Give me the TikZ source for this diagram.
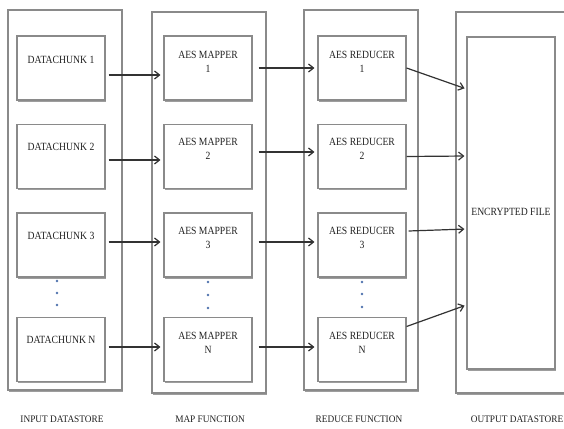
\documentclass[tikz,border=0pt]{standalone}
\usepackage{fontspec}
\setmainfont{Liberation Serif}
\usepackage{graphicx}
\usetikzlibrary{arrows.meta,shadows}
\newcommand{\sqz}[1]{\scalebox{0.88}[1]{#1}}
\newcommand{\sqtwo}[2]{\scalebox{0.88}[1]{\begin{tabular}{@{}c@{}}#1\\[1pt]#2\end{tabular}}}
\definecolor{boxgray}{HTML}{8A8A8A}
\definecolor{arrowgray}{HTML}{333333}
\definecolor{textgray}{HTML}{222222}
\definecolor{dotblue}{HTML}{4F72AE}
\tikzset{
  col/.style={draw=boxgray, line width=1.1pt, fill=white, minimum width=114pt, inner sep=0pt,
    drop shadow={shadow xshift=0.5pt, shadow yshift=-1.6pt, fill=gray!90, opacity=0.85}},
  unit/.style={draw=boxgray, line width=1.1pt, fill=white, minimum width=88pt, minimum height=64pt, inner sep=0pt,
    drop shadow={shadow xshift=0.5pt, shadow yshift=-1.6pt, fill=gray!90, opacity=0.85}},
  txt/.style={text=textgray, font=\fontsize{11}{13}\selectfont, inner sep=0pt},
  lab/.style={text=textgray, font=\fontsize{10}{12}\selectfont, inner sep=0pt},
  flow/.style={draw=arrowgray, line width=1.2pt, -{Straight Barb[length=5pt,width=8pt,line width=1.2pt]}},
  dot/.style={circle, fill=dotblue, inner sep=0pt, minimum size=2.6pt}
}
\begin{document}
\begin{tikzpicture}[x=1pt,y=-1pt]
\clip (0,0) rectangle (564,428);
\fill[white] (0,0) rectangle (564,428);
% outer columns
\node[col, minimum height=380pt] (c1) at (65,200) {};
\node[col, minimum height=381pt] (c2) at (209,202.5) {};
\node[col, minimum height=380pt] (c3) at (361,200) {};
\node[col, minimum height=381pt, minimum width=124pt] (c4) at (518,202.5) {};
% data chunks
\node[unit] (d1) at (61,68) {};
\node[unit] (d2) at (61,156.5) {};
\node[unit] (d3) at (61,245) {};
\node[unit] (dn) at (61,349.5) {};
% mappers
\node[unit] (m1) at (208,68) {};
\node[unit] (m2) at (208,156.5) {};
\node[unit] (m3) at (208,245) {};
\node[unit] (mn) at (208,349.5) {};
% reducers
\node[unit] (r1) at (362,68) {};
\node[unit] (r2) at (362,156.5) {};
\node[unit] (r3) at (362,245) {};
\node[unit] (rn) at (362,349.5) {};
% encrypted file
\node[draw=boxgray, line width=1.1pt, fill=white, minimum width=88pt, minimum height=332pt, inner sep=0pt,
  drop shadow={shadow xshift=0.5pt, shadow yshift=-1.6pt, fill=gray!90, opacity=0.85}] (enc) at (511,203) {};
% texts
\node[txt] (d1t) at ([yshift=-24pt]d1.north) {\sqz{DATACHUNK 1}};
\node[txt] (d2t) at ([yshift=-23pt]d2.north) {\sqz{DATACHUNK 2}};
\node[txt] (d3t) at ([yshift=-23pt]d3.north) {\sqz{DATACHUNK 3}};
\node[txt] (dnt) at ([yshift=-23pt]dn.north) {\sqz{DATACHUNK N}};
\node[txt] (m1t) at ([yshift=-27pt]m1.north) {\sqtwo{AES MAPPER}{1}};
\node[txt] (m2t) at ([yshift=-26pt]m2.north) {\sqtwo{AES MAPPER}{2}};
\node[txt] (m3t) at ([yshift=-26pt]m3.north) {\sqtwo{AES MAPPER}{3}};
\node[txt] (mnt) at ([yshift=-27pt]mn.north) {\sqtwo{AES MAPPER}{N}};
\node[txt] (r1t) at ([yshift=-27pt]r1.north) {\sqtwo{AES REDUCER}{1}};
\node[txt] (r2t) at ([yshift=-26pt]r2.north) {\sqtwo{AES REDUCER}{2}};
\node[txt] (r3t) at ([yshift=-26pt]r3.north) {\sqtwo{AES REDUCER}{3}};
\node[txt] (rnt) at ([yshift=-27pt]rn.north) {\sqtwo{AES REDUCER}{N}};
\node[txt] (enct) at (511,212) {\sqz{ENCRYPTED FILE}};
% dots
\node[dot] (a1) at (57,281) {};
\node[dot] (a2) at (57,293) {};
\node[dot] (a3) at (57,305) {};
\node[dot] (b1) at (208,282) {};
\node[dot] (b2) at (208,295) {};
\node[dot] (b3) at (208,308) {};
\node[dot] (e1) at (362,282) {};
\node[dot] (e2) at (362,294) {};
\node[dot] (e3) at (362,307) {};
% arrows data -> mapper
\draw[flow, shorten <=3pt, shorten >=3pt] ([yshift=-7pt]d1.east) -- ([yshift=-7pt]m1.west);
\draw[flow, shorten <=3pt, shorten >=3pt] ([yshift=-3.5pt]d2.east) -- ([yshift=-3.5pt]m2.west);
\draw[flow, shorten <=3pt, shorten >=3pt] ([yshift=3pt]d3.east) -- ([yshift=3pt]m3.west);
\draw[flow, shorten <=3pt, shorten >=3pt] ([yshift=2.5pt]dn.east) -- ([yshift=2.5pt]mn.west);
% arrows mapper -> reducer
\draw[flow, shorten <=6pt, shorten >=3pt] (m1.east) -- (r1.west);
\draw[flow, shorten <=6pt, shorten >=3pt] ([yshift=4.5pt]m2.east) -- ([yshift=4.5pt]r2.west);
\draw[flow, shorten <=6pt, shorten >=3pt] ([yshift=3pt]m3.east) -- ([yshift=3pt]r3.west);
\draw[flow, shorten <=6pt, shorten >=3pt] ([yshift=2.5pt]mn.east) -- ([yshift=2.5pt]rn.west);
% arrows reducer -> encrypted file
\draw[flow, shorten >=2pt] (r1.east) -- ([yshift=114pt]enc.west);
\draw[flow, shorten >=2pt] (r2.east) -- ([yshift=47pt]enc.west);
\draw[flow, shorten >=2pt] ([xshift=2pt,yshift=14pt]r3.east) -- ([yshift=-26pt]enc.west);
\draw[flow, shorten >=2pt] ([yshift=23pt]rn.east) -- ([yshift=-102pt]enc.west);
% bottom labels
\node[lab] (l1) at (62,419) {\scalebox{0.93}[1]{INPUT DATASTORE}};
\node[lab] (l2) at (210,419) {\scalebox{0.93}[1]{MAP FUNCTION}};
\node[lab] (l3) at (359,419) {\scalebox{0.93}[1]{REDUCE FUNCTION}};
\node[lab] (l4) at (517,419) {\scalebox{0.93}[1]{OUTPUT DATASTORE}};
\end{tikzpicture}
\end{document}
